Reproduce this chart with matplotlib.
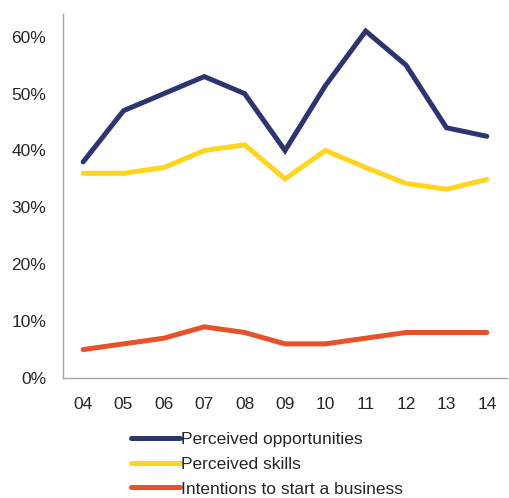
import matplotlib
matplotlib.use("Agg")
import matplotlib.pyplot as plt
from matplotlib.ticker import PercentFormatter

plt.rcParams['font.family'] = ['Liberation Sans', 'DejaVu Sans']

years = ["04", "05", "06", "07", "08", "09", "10", "11", "12", "13", "14"]
opportunities = [38, 47, 50, 53, 50, 40, 51.4, 61, 55, 44, 42.5]
skills = [36, 36, 37, 40, 41, 35, 40, 37, 34.2, 33.2, 34.9]
intentions = [5, 6, 7, 9, 8, 6, 6, 7, 8, 8, 8]

labels = ["Perceived opportunities", "Perceived skills", "Intentions to start a business"]
colors = ["#2e3470", "#ffd520", "#e8512a"]

fig = plt.figure(figsize=(5.09, 4.98), dpi=100)
ax = fig.add_axes([63 / 509, 120 / 498, 444 / 509, 364 / 498])

x = range(len(years))
for series, label, color in zip([opportunities, skills, intentions], labels, colors):
    ax.plot(x, [v / 100 for v in series], color=color, lw=3.6, label=label,
            solid_capstyle='round', solid_joinstyle='miter')

ax.set_xlim(-0.5, len(years) - 0.5)
ax.set_ylim(0, 0.64)
ax.set_yticks([0, 0.1, 0.2, 0.3, 0.4, 0.5, 0.6])
ax.yaxis.set_major_formatter(PercentFormatter(1.0, decimals=0))
ax.set_xticks(list(x))
ax.set_xticklabels(years)

for side in ["top", "right"]:
    ax.spines[side].set_visible(False)
for side in ["left", "bottom"]:
    ax.spines[side].set_color("#a6a6a6")
    ax.spines[side].set_linewidth(1.0)

ax.tick_params(axis='both', length=0, labelsize=12.5, colors="#262626")
ax.tick_params(axis='y', pad=12)
ax.tick_params(axis='x', pad=14)

fig.legend(loc='upper left', bbox_to_anchor=(131 / 509, 1 - 432 / 498),
           frameon=False, fontsize=12.5, handlelength=2.8, handletextpad=0.1,
           labelspacing=0.55, borderpad=0, borderaxespad=0, labelcolor="#262626")

fig.savefig("out.png", dpi=100)
